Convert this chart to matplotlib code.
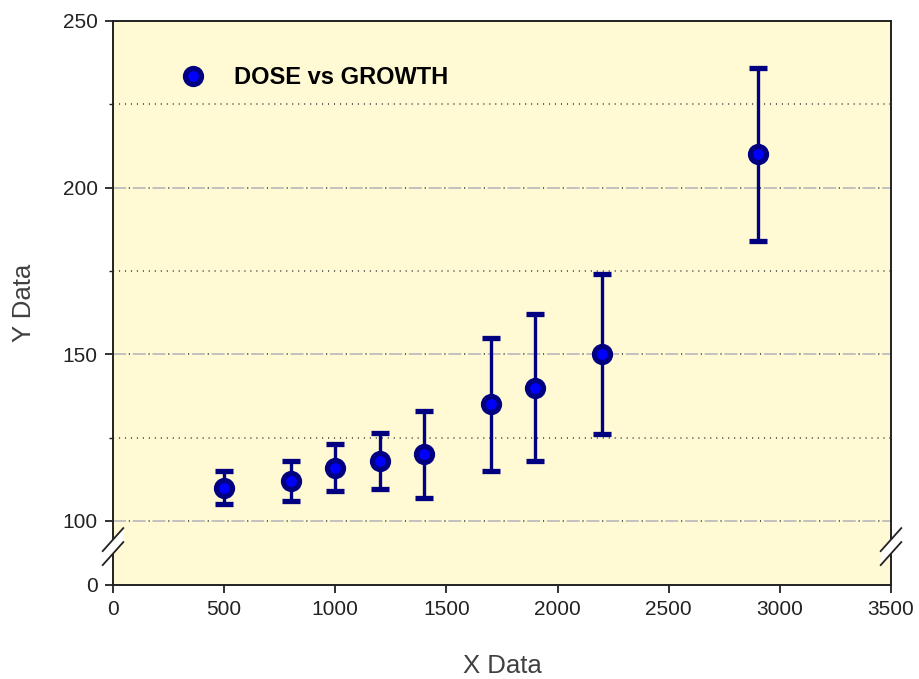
import numpy as np
import matplotlib
matplotlib.use("Agg")
import matplotlib.pyplot as plt
from matplotlib.lines import Line2D
from matplotlib.patches import Polygon
from matplotlib.transforms import blended_transform_factory, ScaledTranslation

plt.rcParams['font.family'] = ['Liberation Sans', 'DejaVu Sans']
plt.rcParams['lines.scale_dashes'] = False

# ---- data ----
dose = [500, 800, 1000, 1200, 1400, 1700, 1900, 2200, 2900]
growth = [110, 112, 116, 118, 120, 135, 140, 150, 210]
err = [5, 6, 7, 8.5, 13, 20, 22, 24, 26]
series_label = "DOSE vs GROWTH"
x_ticks = [0, 500, 1000, 1500, 2000, 2500, 3000, 3500]
y_major = [0, 100, 150, 200, 250]
y_minor = [125, 175, 225]
x_label = "X Data"
y_label = "Y Data"

# ---- broken y scale: 0..100 compressed below the break ----
BREAK = 100.0
LOW0 = 80.8
K = (BREAK - LOW0) / BREAK

def fwd(y):
    y = np.asarray(y, dtype=float)
    return np.where(y >= BREAK, y, LOW0 + y * K)

def inv(y):
    y = np.asarray(y, dtype=float)
    return np.where(y >= BREAK, y, (y - LOW0) / K)

fig = plt.figure(figsize=(9.19, 6.79), dpi=100)
ax = fig.add_axes([113/919, 1 - 585/679, 778/919, 564/679])
ax.set_facecolor('#FFF9D4')
ax.set_yscale('function', functions=(fwd, inv))
ax.set_xlim(0, 3500)
ax.set_ylim(0, 250)

# grid lines
for v in y_major[1:-1]:
    ax.axhline(v, color='#BDBDBD', lw=1.3, ls=(0, (9.4, 4.8)), zorder=1)
    ax.axhline(v, color='#404040', lw=1.2, ls=(2.8, (0.8, 13.4)), zorder=1)
for v in y_minor:
    ax.axhline(v, color='#404040', lw=1.1, ls=(0, (0.8, 3.5)), zorder=1)

navy = '#000080'
ax.errorbar(dose, growth, yerr=err, fmt='o', color=navy, ecolor=navy,
            elinewidth=2.4, capsize=6.5, capthick=2.2,
            markersize=11.5, markerfacecolor='#0000FF', markeredgecolor=navy,
            markeredgewidth=3.8, zorder=3)

ax.set_xticks(x_ticks)
ax.set_yticks(y_major)
ax.set_yticks(y_minor, minor=True)
ax.xaxis.set_minor_locator(matplotlib.ticker.NullLocator())
ax.tick_params(axis='both', which='major', direction='out', length=6, width=1.3,
               labelsize=15, colors='#222222', pad=5)
ax.tick_params(axis='y', which='minor', direction='out', length=3, width=1.0,
               colors='#222222')
for s in ax.spines.values():
    s.set_color('#222222')
    s.set_linewidth(1.4)

ax.set_xlabel(x_label, fontsize=18.5, color='#404040', labelpad=25)
ax.set_ylabel(y_label, fontsize=18.5, color='#404040', labelpad=19)

# legend
proxy = Line2D([], [], ls='none', marker='o', markersize=11.5,
               markerfacecolor='#0000FF', markeredgecolor=navy, markeredgewidth=3.8)
leg = ax.legend(handles=[proxy], labels=[series_label], loc='center left',
                bbox_to_anchor=(0.0877, 0.899), frameon=False,
                prop={'weight': 'bold', 'size': 17}, handlelength=1.0,
                handletextpad=1.24, borderpad=0, borderaxespad=0)
for t in leg.get_texts():
    t.set_color('#000000')

# break marks on both spines
for xa in (0.0, 1.0):
    anchor = ScaledTranslation(xa, 60, blended_transform_factory(ax.transAxes, ax.transData))
    tr = fig.dpi_scale_trans + anchor
    hx, hy, off = 0.103, 0.115, 0.07
    poly = Polygon([(-hx, -hy + off), (hx, hy + off), (hx, hy - off), (-hx, -hy - off)],
                   closed=True, facecolor='white', edgecolor='none',
                   transform=tr, clip_on=False, zorder=5)
    fig.add_artist(poly)
    for d in (off, -off):
        ln = Line2D([-hx, hx], [-hy + d, hy + d], color='#222222', lw=1.3,
                    transform=tr, clip_on=False, zorder=6)
        fig.add_artist(ln)

fig.savefig('out.png', dpi=100)
